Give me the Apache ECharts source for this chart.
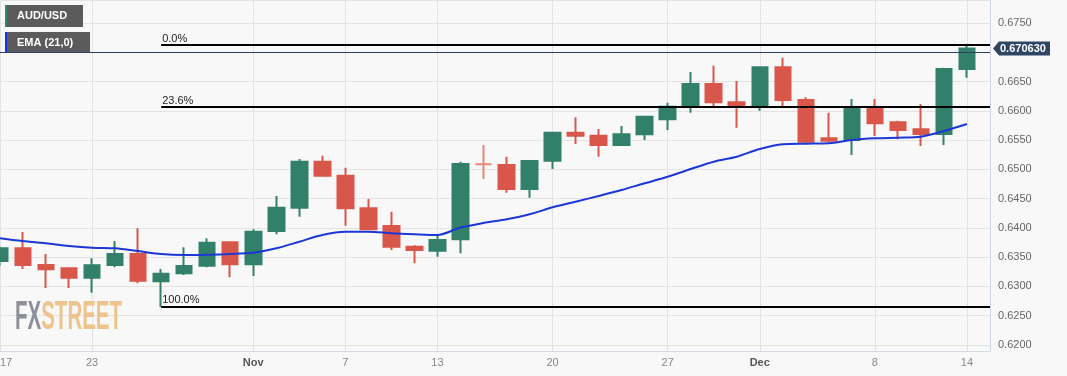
<!DOCTYPE html>
<html><head><meta charset="utf-8">
<script src="https://cdn.jsdelivr.net/npm/echarts@6/dist/echarts.min.js"></script>
<style>html,body{margin:0;padding:0;background:#f8f8f8}#c{width:1067px;height:376px}</style>
</head><body><div id="c"></div>
<script>
// ---- data ----
const categories = ['2023-10-17','2023-10-18','2023-10-19','2023-10-20','2023-10-23','2023-10-24','2023-10-25','2023-10-26','2023-10-27','2023-10-30','2023-10-31',
  '2023-11-01','2023-11-02','2023-11-03','2023-11-06','2023-11-07','2023-11-08','2023-11-09','2023-11-10','2023-11-13','2023-11-14','2023-11-15','2023-11-16','2023-11-17',
  '2023-11-20','2023-11-21','2023-11-22','2023-11-23','2023-11-24','2023-11-27','2023-11-28','2023-11-29','2023-11-30',
  '2023-12-01','2023-12-04','2023-12-05','2023-12-06','2023-12-07','2023-12-08','2023-12-11','2023-12-12','2023-12-13','2023-12-14','2023-12-15'];
const openV  = [0.63435,0.63652,0.63366,0.63310,0.63150,0.63366,0.63554,0.63088,0.63225,0.63354,0.63754,
  0.63378,0.63947,0.64345,0.65131,0.64892,0.64335,0.64033,0.63679,0.63611,0.63805,0.65086,0.65074,0.64664,
  0.65148,0.65626,0.65575,0.65416,0.65599,0.65855,0.66070,0.66458,0.66145,
  0.66087,0.66743,0.66185,0.65530,0.65501,0.66031,0.65804,0.65684,0.65604,0.66714];
const closeV = [0.63652,0.63366,0.63293,0.63150,0.63361,0.63554,0.63098,0.63218,0.63349,0.63747,0.63378,
  0.63935,0.64345,0.65131,0.64892,0.64335,0.63976,0.63679,0.63623,0.63793,0.65091,0.65086,0.64664,0.65143,
  0.65626,0.65575,0.65416,0.65599,0.65899,0.66070,0.66458,0.66145,0.66087,
  0.66743,0.66185,0.65472,0.65489,0.66043,0.65787,0.65672,0.65604,0.66714,0.67063];
const lowV   = [0.63349,0.63298,0.62974,0.62974,0.62893,0.63327,0.63054,0.62650,0.63196,0.63327,0.63156,
  0.63178,0.63891,0.64191,0.64875,0.64038,0.63964,0.63623,0.63395,0.63508,0.63566,0.64835,0.64601,0.64516,
  0.65006,0.65433,0.65216,0.65410,0.65501,0.65672,0.65968,0.66060,0.65711,
  0.66002,0.66060,0.65445,0.65462,0.65245,0.65570,0.65513,0.65399,0.65416,0.66565];
const highV  = [0.63680,0.63930,0.63554,0.63315,0.63481,0.63776,0.63993,0.63298,0.63669,0.63822,0.63764,
  0.63976,0.64545,0.65177,0.65233,0.65028,0.64494,0.64277,0.63703,0.63896,0.65131,0.65416,0.65216,0.65150,
  0.65643,0.65889,0.65689,0.65740,0.65905,0.66138,0.66663,0.66770,0.66509,
  0.66753,0.66907,0.66231,0.65968,0.66202,0.66202,0.65831,0.66116,0.66736,0.67120];
const emaV   = [0.63822,0.63776,0.63737,0.63691,0.63662,0.63652,0.63605,0.63554,0.63537,0.63542,0.63554,
  0.63576,0.63652,0.63764,0.63879,0.63935,0.63935,0.63908,0.63891,0.63879,0.64007,0.64084,0.64147,0.64232,
  0.64352,0.64448,0.64545,0.64647,0.64762,0.64874,0.65006,0.65131,0.65216,
  0.65348,0.65428,0.65438,0.65445,0.65501,0.65530,0.65541,0.65558,0.65655,0.65775];
const tickCats  = ['2023-10-17','2023-10-23','2023-11-01','2023-11-07','2023-11-13','2023-11-20','2023-11-27','2023-12-01','2023-12-08','2023-12-14'];
const tickTexts = ['17','23','Nov','7','13','20','27','Dec','8','14'];
const tickIsMonth = [false,false,true,false,false,false,false,true,false,false];
const fibLevels = [0, 0.236, 1];
const fibLabels = ['0.0%','23.6%','100.0%'];
const yMin = 0.61898, yMax = 0.67892;

// ---- chart ----
const chart = echarts.init(document.getElementById('c'), null, {renderer:'canvas'});
const candleData = openV.map((o,i)=>[o, closeV[i], lowV[i], highV[i]]);
const fibHigh = Math.max(...highV), fibLow = Math.min(...lowV);
const lowIdx = lowV.indexOf(fibLow);
const lastCat = categories[categories.length-1];
const lastClose = closeV[closeV.length-1];
const fibLines = fibLevels.map((p,i)=>{
  const v = fibHigh - p*(fibHigh-fibLow);
  return [{coord:[categories[lowIdx], v], label:{formatter: fibLabels[i]}}, {coord:[lastCat, v]}];
});
const isTick = (idx, val) => tickCats.indexOf(typeof val === 'string' ? val : categories[idx]) >= 0;
const GREEN = '#33806a', RED = '#d8574a';

chart.setOption({
  backgroundColor: '#f8f8f8',
  animation: false,
  grid: {left: 0, right: 77, top: 0, bottom: 25, containLabel: false, outerBoundsMode: 'none'},
  xAxis: {
    type: 'category', data: categories, boundaryGap: false,
    axisLine: {lineStyle: {color: '#d3d8e2'}},
    axisTick: {show: false},
    axisLabel: {
      interval: (i, v) => isTick(i, v), margin: 6, hideOverlap: false, alignMinLabel: 'left',
      formatter: v => { const k = tickCats.indexOf(v); return tickIsMonth[k] ? '{m|' + tickTexts[k] + '}' : '{d|' + tickTexts[k] + '}'; },
      rich: {
        m: {fontFamily: 'Liberation Sans, Arial', fontSize: 11, fontWeight: 'bold', color: '#555'},
        d: {fontFamily: 'Liberation Sans, Arial', fontSize: 11, color: '#888'}
      }
    },
    splitLine: {show: true, interval: (i, v) => isTick(i, v), lineStyle: {color: '#e3e3e3'}}
  },
  yAxis: {
    type: 'value', position: 'right', min: yMin, max: yMax, splitNumber: 12,
    axisLine: {show: true, lineStyle: {color: '#cdd5e3'}},
    axisTick: {show: false},
    axisLabel: {color: '#666', fontSize: 11, fontFamily: 'Liberation Sans, Arial', margin: 8,
      showMinLabel: false, showMaxLabel: false, formatter: v => v.toFixed(4)},
    splitLine: {lineStyle: {color: '#e3e3e3'}}
  },
  series: [
    {
      type: 'candlestick', data: candleData, barWidth: 16,
      itemStyle: {color: GREEN, color0: RED, borderColor: GREEN, borderColor0: RED, borderColorDoji: '#e5877a', borderWidth: 2},
      markLine: {
        silent: true, symbol: ['none','none'], animation: false,
        lineStyle: {color: '#000', width: 2, type: 'solid'},
        label: {position: 'insideStartTop', color: '#222', fontSize: 11, fontFamily: 'Liberation Sans, Arial', distance: [1, 1]},
        data: fibLines
      }
    },
    {
      type: 'line', data: emaV, smooth: 0.3, symbol: 'none',
      lineStyle: {color: '#1c37d6', width: 2}, itemStyle: {color: '#1c37d6'},
      z: 3,
      markLine: {
        silent: true, symbol: ['none','none'], animation: false,
        lineStyle: {color: '#2b3f63', width: 1, type: 'solid'},
        label: {show: false},
        data: [{yAxis: lastClose}]
      }
    }
  ]
});

const pxy = chart.convertToPixel({seriesIndex: 0}, [lastCat, lastClose]);
const px = pxy[0], py = pxy[1];
chart.setOption({
  graphic: [
    {type: 'group', left: 5, top: 5, z: 0, children: [
      {type: 'rect', shape: {x: 0, y: 0, width: 78, height: 22}, style: {fill: '#5b5b5b'}},
      {type: 'rect', shape: {x: 0, y: 0, width: 2, height: 22}, style: {fill: '#2f8a6c'}},
      {type: 'text', x: 12, y: 11, style: {text: 'AUD/USD', fill: '#fff', font: 'bold 11px Liberation Sans, Arial', verticalAlign: 'middle'}}
    ]},
    {type: 'group', left: 5, top: 32, z: 0, children: [
      {type: 'rect', shape: {x: 0, y: 0, width: 85, height: 21}, style: {fill: '#5b5b5b'}},
      {type: 'rect', shape: {x: 0, y: 0, width: 2, height: 21}, style: {fill: '#1733e6'}},
      {type: 'text', x: 12, y: 11, style: {text: 'EMA (21,0)', fill: '#fff', font: 'bold 11px Liberation Sans, Arial', verticalAlign: 'middle'}}
    ]},
    {type: 'polygon', z: 100, shape: {points: [[px + 3, py], [px + 9, py - 7], [px + 60, py - 7], [px + 60, py + 7], [px + 9, py + 7]]}, style: {fill: '#2e4564'}},
    {type: 'text', z: 101, x: px + 10, y: py, style: {text: lastClose.toFixed(6), fill: '#fff', font: 'bold 11px Liberation Sans, Arial', verticalAlign: 'middle'}},
    {type: 'text', z: 1, x: 15, y: 318, scaleX: 0.5, style: {
      text: '{a|FX}{b|STREET}', verticalAlign: 'middle',
      rich: {
        a: {fontFamily: 'Liberation Sans', fontWeight: 'bold', fontSize: 41, fill: '#8d9099'},
        b: {fontFamily: 'Liberation Sans', fontWeight: 'bold', fontSize: 41, fill: '#efc48c'}
      }
    }}
  ]
});
</script>
</body></html>
